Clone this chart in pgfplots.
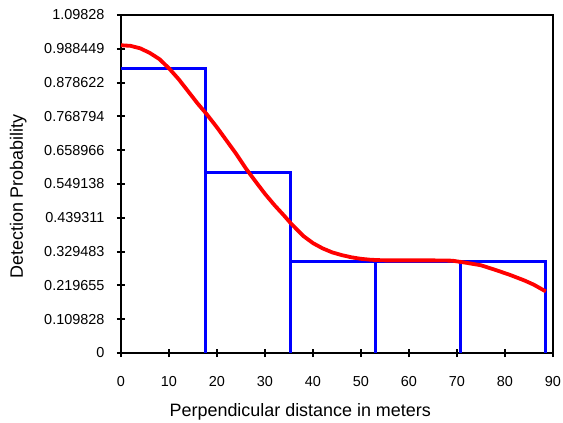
\documentclass[border=0pt]{standalone}
\usepackage{fontspec}
\setmainfont{Liberation Sans}
\usepackage{pgfplots}
\pgfplotsset{compat=1.18}

% detection function fitted to the perpendicular distances
\pgfplotstableread{
x y
0 1.000
2 0.998
4 0.990
6 0.975
8 0.955
10 0.925
12 0.890
14 0.850
16 0.810
17.7 0.779
20 0.733
22 0.690
24 0.647
26 0.600
28 0.558
30 0.517
32 0.480
34 0.446
35.4 0.421
38 0.380
40 0.357
42 0.340
44 0.327
46 0.318
48 0.311
50 0.306
52 0.303
55 0.301
60 0.301
65 0.301
69 0.300
72 0.293
75 0.285
78 0.270
81 0.254
84 0.236
86 0.222
88.5 0.200
}\detfun

\begin{document}
\begin{tikzpicture}
\useasboundingbox (-121bp,-70bp) rectangle (442bp,353bp);
\begin{axis}[
  scale only axis,
  width=432bp, height=338bp,
  xmin=0, xmax=90, ymin=0, ymax=1.09828,
  axis line style={line width=2bp},
  tick pos=left,
  tick align=center,
  major tick length=8bp,
  tick style={line width=2bp, black},
  xtick={0,10,...,90},
  ytick={0,0.109828,0.219655,0.329483,0.439311,0.549138,0.658966,0.768794,0.878622,0.988449,1.09828},
  yticklabels={0,0.109828,0.219655,0.329483,0.439311,0.549138,0.658966,0.768794,0.878622,0.988449,1.09828},
  /pgf/number format/assume math mode=true,
  ticklabel style={font=\fontsize{14.5}{17}\selectfont},
  xticklabel style={yshift=-16bp},
  yticklabel style={xshift=-9bp},
  xlabel={Perpendicular distance in meters},
  ylabel={Detection Probability},
  label style={font=\fontsize{18}{21}\selectfont},
  xlabel style={at={(axis description cs:0.415,-0.1885)}, anchor=base},
  ylabel style={at={(axis description cs:-0.238,0.463)}, anchor=center},
  clip=false,
]
% histogram of scaled counts, bin width 17.7 m
\addplot[blue, line width=3bp] coordinates {(0,0.926) (17.7,0.926) (17.7,0)};
\addplot[blue, line width=3bp] coordinates {(17.7,0) (17.7,0.588) (35.4,0.588) (35.4,0)};
\addplot[blue, line width=3bp] coordinates {(35.4,0) (35.4,0.297) (53.1,0.297) (53.1,0)};
\addplot[blue, line width=3bp] coordinates {(53.1,0) (53.1,0.297) (70.8,0.297) (70.8,0)};
\addplot[blue, line width=3bp] coordinates {(70.8,0) (70.8,0.297) (88.5,0.297) (88.5,0)};
% fitted curve
\addplot[red, line width=3.8bp, line join=round] table[x=x, y=y] {\detfun};
\end{axis}
\end{tikzpicture}
\end{document}
